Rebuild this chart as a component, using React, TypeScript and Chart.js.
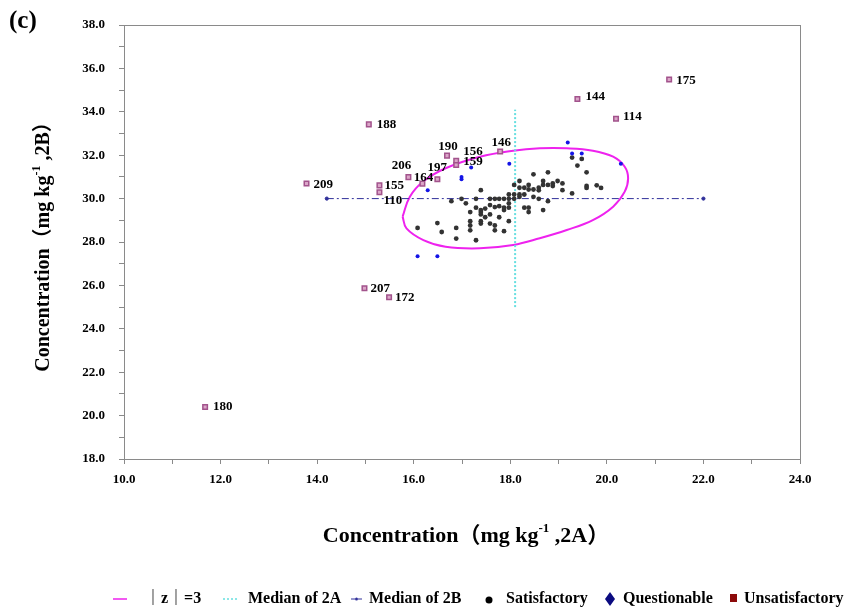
import React, { useEffect, useRef } from 'react';
import { Chart, registerables } from 'chart.js';

Chart.register(...registerables);

// ---------- data ----------
const xMin = 10;
const xMax = 24;
const yMin = 18;
const yMax = 38;

const satisfactory: [number, number][] = [
  [18.48, 31.12], [18.78, 31.21], [17.39, 30.39],
  [18.08, 30.63], [18.19, 30.81], [18.19, 30.5], [18.29, 30.5], [18.38, 30.63], [18.38, 30.42],
  [18.48, 30.42], [18.59, 30.5], [18.59, 30.38], [18.68, 30.81], [18.68, 30.63], [18.78, 30.63],
  [18.88, 30.7], [18.88, 30.58], [18.98, 30.81], [19.08, 30.7], [19.08, 30.39], [19.28, 30.24],
  [19.28, 31.89], [19.48, 31.83], [19.39, 31.52], [19.58, 31.21], [19.58, 30.58], [19.58, 30.49],
  [19.79, 30.61], [19.88, 30.49],
  [16.78, 29.88], [16.99, 29.99], [17.08, 29.78], [17.29, 29.99], [17.58, 29.99], [17.68, 29.99],
  [17.77, 29.99], [17.87, 29.99], [17.97, 29.99], [17.97, 30.19], [18.08, 30.19], [18.19, 30.19],
  [18.29, 30.19], [18.19, 30.08], [18.08, 29.99], [18.48, 30.08], [18.59, 29.99], [18.78, 29.88],
  [17.29, 29.58], [17.39, 29.47], [17.39, 29.38], [17.39, 29.27], [17.17, 29.38], [17.48, 29.54],
  [17.58, 29.7], [17.58, 29.27], [17.68, 29.61], [17.77, 29.65], [17.87, 29.47], [17.87, 29.58],
  [17.97, 29.58], [17.97, 29.78], [18.29, 29.58], [18.38, 29.58], [18.38, 29.38], [18.68, 29.47],
  [17.77, 29.14], [17.48, 29.14],
  [17.17, 28.96], [17.17, 28.76], [17.17, 28.54], [17.39, 28.96], [17.39, 28.85], [17.58, 28.85],
  [17.68, 28.76], [17.68, 28.54], [17.87, 28.5], [17.97, 28.96],
  [16.08, 28.65], [16.49, 28.87], [16.58, 28.46], [16.88, 28.65], [16.88, 28.16], [17.29, 28.08],
];

const questionable: [number, number][] = [
  [19.19, 32.58], [19.28, 32.08], [19.48, 32.08], [20.29, 31.61], [17.98, 31.61], [17.19, 31.43],
  [16.99, 30.99], [16.99, 30.89], [16.29, 30.39], [16.08, 27.34], [16.49, 27.34],
];

const unsatisfactoryIds: string[] = [
  '175', '144', '114', '188', '190', '156', '159', '146', '206',
  '164', '197', '209', '155', '110', '207', '172', '180',
];
const unsatisfactory: [number, number][] = [
  [21.29, 35.49], [19.39, 34.59], [20.19, 33.68], [15.07, 33.42], [16.69, 31.98], [16.88, 31.74],
  [16.88, 31.55], [17.79, 32.17], [15.89, 30.99], [16.18, 30.69], [16.49, 30.89], [13.78, 30.7],
  [15.29, 30.61], [15.29, 30.29], [14.98, 25.87], [15.49, 25.45], [11.68, 20.4],
];

// |z| = 3 boundary
const zBoundary: [number, number][] = [
  [15.77, 29.17], [15.92, 30.09], [16.19, 30.78], [16.66, 31.4], [17.37, 31.93], [18.06, 32.21],
  [18.61, 32.32], [19.17, 32.32], [19.71, 32.21], [20.13, 31.93], [20.37, 31.47], [20.44, 30.94],
  [20.37, 30.32], [20.13, 29.63], [19.71, 29.01], [19.17, 28.55], [18.61, 28.17], [18.06, 27.86],
  [17.37, 27.71], [16.66, 27.78], [16.2, 28.09], [15.85, 28.63],
];

const median2A: [number, number][] = [[18.1, 25.0], [18.1, 34.1]];
const median2B: [number, number][] = [[14.2, 30.0], [22.0, 30.0]];

// ---------- styles / layout ----------
const SERIF = "'Liberation Serif', 'Times New Roman', 'Noto Sans CJK SC', serif";
const CJK = "'Noto Sans CJK SC', 'Liberation Serif', serif";
const C_ELLIPSE = '#ee22ee';
const C_MED_A = '#66dfe0';
const C_MED_B = '#30309a';
const C_SAT = '#333333';
const C_QUE = '#1414e6';

// label placement for unsatisfactory labels: [dx, dy, align]
const labelPlacement: Record<string, [number, number, CanvasTextAlign]> = {
  '209': [7, 1, 'left'], '155': [5, 0, 'left'], '110': [4, 8, 'left'],
  '206': [-7, -11, 'center'], '164': [1, -6, 'center'], '197': [0, -12, 'center'],
  '190': [1, -9, 'center'], '156': [7, -9, 'left'], '159': [7, -3, 'left'],
  '146': [1, -9, 'center'], '207': [6, 0, 'left'], '172': [6, 0, 'left'],
  '175': [7, 1, 'left'], '144': [8, -2, 'left'], '114': [7, -2, 'left'],
  '180': [8, 0, 'left'], '188': [8, 0, 'left'],
};

const toPts = (a: [number, number][]) => a.map(([x, y]) => ({ x, y }));

type Part = { t: string; size: number; rise?: number; font?: string };

function drawParts(ctx: CanvasRenderingContext2D, parts: Part[], cx: number, cy: number) {
  let total = 0;
  const widths: number[] = [];
  for (const p of parts) {
    ctx.font = `bold ${p.size}px ${p.font || SERIF}`;
    const w = ctx.measureText(p.t).width;
    widths.push(w);
    total += w;
  }
  let x = cx - total / 2;
  ctx.textAlign = 'left';
  ctx.textBaseline = 'alphabetic';
  parts.forEach((p, i) => {
    ctx.font = `bold ${p.size}px ${p.font || SERIF}`;
    ctx.fillText(p.t, x, cy + (p.rise || 0));
    x += widths[i];
  });
}

const titleParts = (tail: string, size: number): Part[] => [
  { t: 'Concentration', size },
  { t: '（', size, font: CJK },
  { t: 'mg kg', size },
  { t: '-1', size: Math.round(size * 0.6), rise: -Math.round(size * 0.45) },
  { t: ' ,' + tail, size },
  { t: '）', size, font: CJK },
];

const decorPlugin = {
  id: 'decor',
  beforeDatasetsDraw(chart: any) {
    const { ctx, chartArea: a } = chart;
    ctx.save();
    ctx.strokeStyle = '#8a8a8a';
    ctx.lineWidth = 1;
    ctx.strokeRect(a.left + 0.5, a.top + 0.5, a.right - a.left, a.bottom - a.top);
    ctx.restore();
  },
  afterDatasetsDraw(chart: any) {
    const { ctx } = chart;
    const meta = chart.getDatasetMeta(0);
    ctx.save();
    ctx.fillStyle = '#000';
    ctx.font = `bold 13px ${SERIF}`;
    ctx.textBaseline = 'middle';
    meta.data.forEach((el: any, i: number) => {
      const id = unsatisfactoryIds[i];
      const [dx, dy, al] = labelPlacement[id] || [7, 0, 'left'];
      ctx.textAlign = al;
      ctx.fillText(id, el.x + dx, el.y + dy);
    });
    ctx.restore();
  },
  afterDraw(chart: any) {
    const { ctx, chartArea: a } = chart;
    ctx.save();
    ctx.fillStyle = '#000';
    // panel letter
    ctx.font = `bold 25px ${SERIF}`;
    ctx.textAlign = 'left';
    ctx.textBaseline = 'alphabetic';
    ctx.fillText('(c)', 9, 28);
    // x title
    drawParts(ctx, titleParts('2A', 22), (a.left + a.right) / 2 + 4, 542);
    // y title
    ctx.save();
    ctx.translate(49, (a.top + a.bottom) / 2);
    ctx.rotate(-Math.PI / 2);
    drawParts(ctx, titleParts('2B', 20), 0, 0);
    ctx.restore();

    // legend
    const ly = 599;
    ctx.font = `bold 16px ${SERIF}`;
    ctx.textBaseline = 'middle';
    ctx.textAlign = 'left';
    // |z|=3
    ctx.strokeStyle = C_ELLIPSE;
    ctx.lineWidth = 1.5;
    ctx.beginPath(); ctx.moveTo(113, ly); ctx.lineTo(127, ly); ctx.stroke();
    ctx.fillStyle = '#000';
    ctx.fillText('｜z｜=3', 145, ly);
    // median 2A
    ctx.strokeStyle = C_MED_A;
    ctx.setLineDash([2, 2]);
    ctx.beginPath(); ctx.moveTo(223, ly); ctx.lineTo(237, ly); ctx.stroke();
    ctx.setLineDash([]);
    ctx.fillText('Median of 2A', 248, ly);
    // median 2B
    ctx.strokeStyle = C_MED_B;
    ctx.lineWidth = 1;
    ctx.beginPath(); ctx.moveTo(351, ly); ctx.lineTo(355, ly); ctx.moveTo(358, ly); ctx.lineTo(362, ly); ctx.stroke();
    ctx.fillStyle = C_MED_B;
    ctx.beginPath(); ctx.arc(356.5, ly, 1.5, 0, Math.PI * 2); ctx.fill();
    ctx.fillStyle = '#000';
    ctx.fillText('Median of 2B', 369, ly);
    // satisfactory
    ctx.beginPath(); ctx.arc(489, ly + 1, 3.5, 0, Math.PI * 2); ctx.fill();
    ctx.fillText('Satisfactory', 506, ly);
    // questionable
    ctx.fillStyle = '#0a0a80';
    ctx.beginPath();
    ctx.moveTo(610, ly - 7); ctx.lineTo(615, ly); ctx.lineTo(610, ly + 7); ctx.lineTo(605, ly);
    ctx.closePath(); ctx.fill();
    ctx.fillStyle = '#000';
    ctx.fillText('Questionable', 623, ly);
    // unsatisfactory
    ctx.fillStyle = '#8c0a0a';
    ctx.fillRect(730, ly - 5, 7, 8);
    ctx.fillStyle = '#000';
    ctx.fillText('Unsatisfactory', 744, ly);
    ctx.restore();
  },
};

export default function App() {
  const ref = useRef<HTMLCanvasElement | null>(null);

  useEffect(() => {
    if (!ref.current) return;
    const tickFont = { family: SERIF, weight: 'bold' as const, size: 13 };
    const chart = new Chart(ref.current, {
      type: 'scatter',
      data: {
        datasets: [
          {
            label: 'Unsatisfactory',
            data: toPts(unsatisfactory),
            pointStyle: 'rect',
            pointRadius: 3.2,
            backgroundColor: '#dba6c8',
            borderColor: '#a2538c',
            borderWidth: 1.5,
          },
          {
            label: 'Questionable',
            data: toPts(questionable),
            pointRadius: 2,
            backgroundColor: C_QUE,
            borderColor: C_QUE,
            borderWidth: 0,
          },
          {
            label: 'Satisfactory',
            data: toPts(satisfactory),
            pointRadius: 2.4,
            backgroundColor: C_SAT,
            borderColor: C_SAT,
            borderWidth: 0,
          },
          {
            label: 'Median of 2B',
            data: toPts(median2B),
            showLine: true,
            borderColor: C_MED_B,
            borderWidth: 1,
            borderDash: [7, 3, 2, 3],
            pointRadius: 1.6,
            backgroundColor: C_MED_B,
          },
          {
            label: 'Median of 2A',
            data: toPts(median2A),
            showLine: true,
            borderColor: C_MED_A,
            borderWidth: 2,
            borderDash: [2, 2],
            pointRadius: 0,
          },
          {
            label: '|z|=3',
            data: toPts([...zBoundary, zBoundary[0]]),
            showLine: true,
            tension: 0.4,
            borderColor: C_ELLIPSE,
            borderWidth: 2,
            pointRadius: 0,
          },
        ],
      },
      options: {
        responsive: false,
        animation: false,
        events: [],
        layout: { padding: { top: 25, right: 46, bottom: 0, left: 0 } },
        plugins: {
          legend: { display: false },
          tooltip: { enabled: false },
        },
        scales: {
          x: {
            type: 'linear',
            min: xMin,
            max: xMax,
            afterFit: (s: any) => { s.height = 157; },
            ticks: {
              stepSize: 1,
              autoSkip: false,
              maxRotation: 0,
              color: '#000',
              font: tickFont,
              padding: 8,
              callback: (v: any) => (Number(v) % 2 === 0 ? Number(v).toFixed(1) : ''),
            },
            grid: { drawOnChartArea: false, tickLength: 5, color: '#8a8a8a' },
            border: { color: '#8a8a8a', width: 1 },
          },
          y: {
            type: 'linear',
            min: yMin,
            max: yMax,
            afterFit: (s: any) => { s.width = 124; },
            ticks: {
              stepSize: 1,
              autoSkip: false,
              color: '#000',
              font: tickFont,
              padding: 14,
              callback: (v: any) => (Number(v) % 2 === 0 ? Number(v).toFixed(1) : ''),
            },
            grid: { drawOnChartArea: false, tickLength: 5, color: '#8a8a8a' },
            border: { color: '#8a8a8a', width: 1 },
          },
        },
      },
      plugins: [decorPlugin],
    });
    return () => chart.destroy();
  }, []);

  return (
    <div style={{ position: 'fixed', left: 0, top: 0, width: 846, height: 616, background: '#fff' }}>
      <canvas ref={ref} width={846} height={616} style={{ display: 'block', width: 846, height: 616 }} />
    </div>
  );
}
